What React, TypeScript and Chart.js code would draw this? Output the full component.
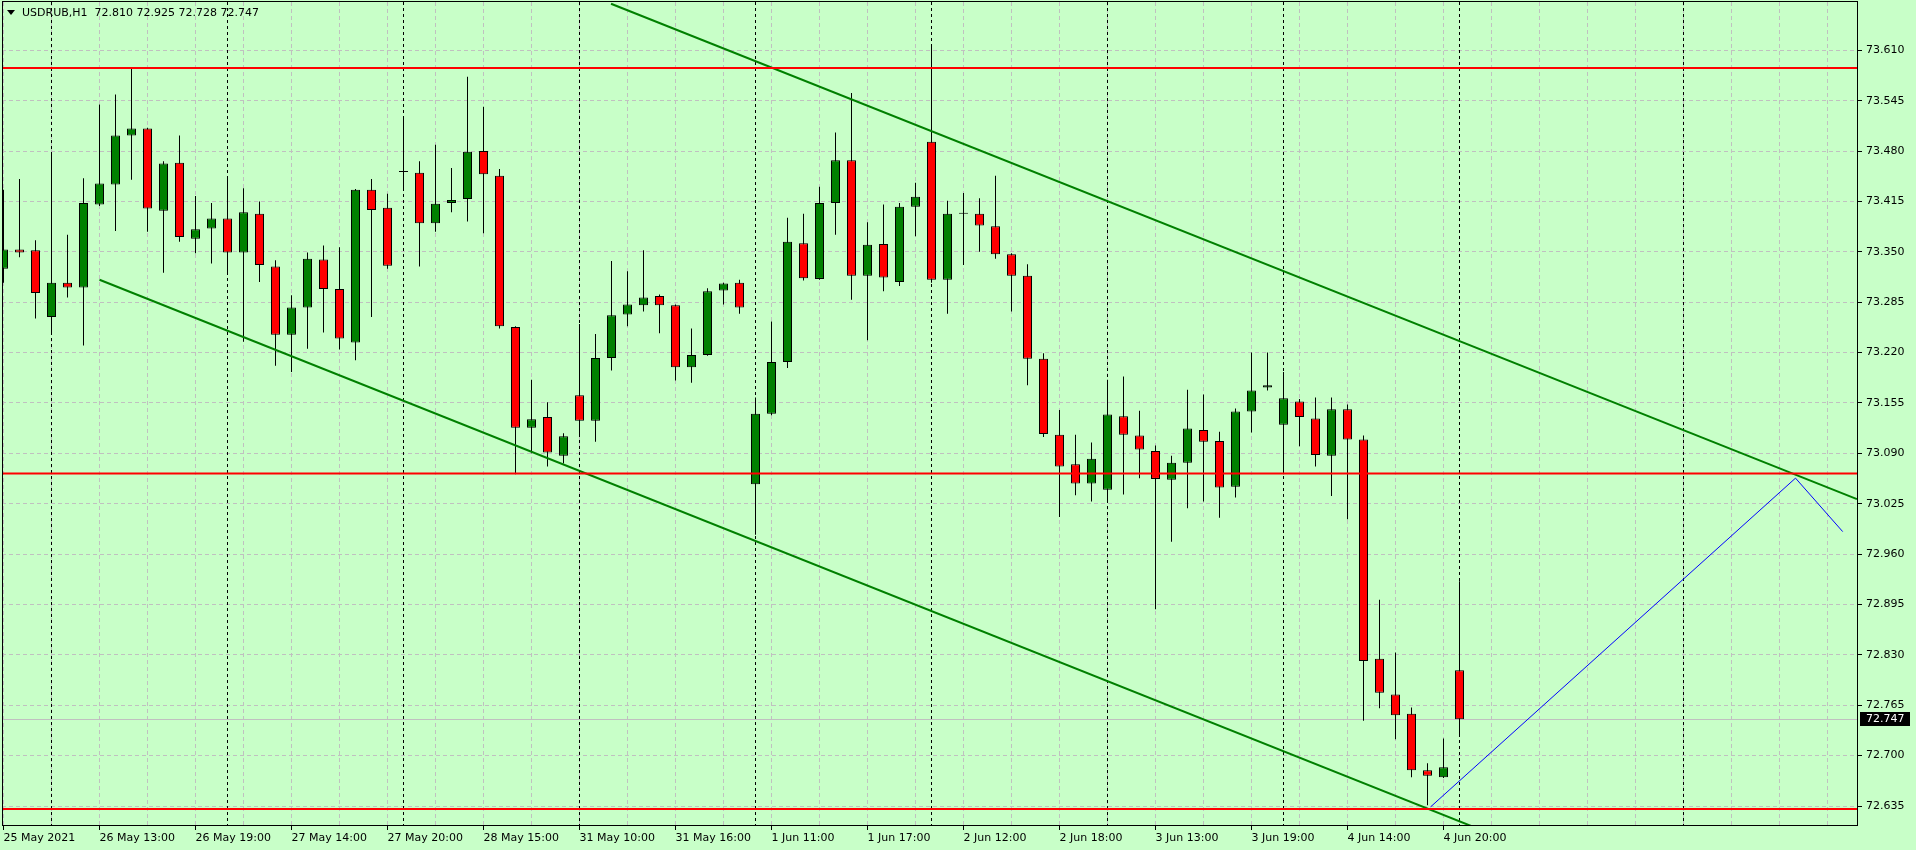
import React, { useEffect, useRef } from 'react';
import { Chart, registerables } from 'chart.js';

Chart.register(...registerables);

const symbolTitle = 'USDRUB,H1';
const headerValues = ['72.810', '72.925', '72.728', '72.747'];

const opens = [
  73.328, 73.353, 73.352, 73.266, 73.310, 73.304, 73.411, 73.437, 73.500, 73.509,
  73.403, 73.465, 73.367, 73.380, 73.393, 73.349, 73.399, 73.331, 73.243, 73.278,
  73.340, 73.302, 73.233, 73.430, 73.407, 73.453, 73.452, 73.387, 73.413, 73.418,
  73.480, 73.448, 73.253, 73.123, 73.137, 73.087, 73.165, 73.132, 73.213, 73.269,
  73.281, 73.293, 73.281, 73.201, 73.217, 73.300, 73.310, 73.050, 73.141, 73.208,
  73.361, 73.315, 73.413, 73.468, 73.319, 73.360, 73.311, 73.408, 73.492, 73.314,
  73.399, 73.399, 73.383, 73.347, 73.319, 73.212, 73.114, 73.076, 73.051, 73.043,
  73.138, 73.113, 73.093, 73.056, 73.078, 73.120, 73.106, 73.047, 73.144, 73.175,
  73.127, 73.157, 73.135, 73.087, 73.147, 73.108, 72.825, 72.779, 72.754, 72.681,
  72.672, 72.810,
];
const highs = [
  73.430, 73.444, 73.365, 73.478, 73.372, 73.445, 73.540, 73.553, 73.587, 73.510,
  73.467, 73.500, 73.422, 73.413, 73.447, 73.432, 73.415, 73.339, 73.294, 73.349,
  73.358, 73.356, 73.431, 73.444, 73.425, 73.525, 73.467, 73.488, 73.458, 73.576,
  73.537, 73.457, 73.254, 73.185, 73.156, 73.116, 73.257, 73.244, 73.338, 73.325,
  73.352, 73.295, 73.282, 73.251, 73.303, 73.310, 73.314, 73.162, 73.260, 73.394,
  73.399, 73.434, 73.504, 73.555, 73.388, 73.411, 73.413, 73.439, 73.618, 73.416,
  73.426, 73.419, 73.448, 73.348, 73.334, 73.219, 73.146, 73.114, 73.104, 73.185,
  73.189, 73.145, 73.100, 73.087, 73.172, 73.166, 73.118, 73.148, 73.220, 73.220,
  73.195, 73.160, 73.162, 73.162, 73.153, 73.113, 72.901, 72.833, 72.762, 72.690,
  72.722, 72.925,
];
const lows = [
  73.310, 73.343, 73.264, 73.243, 73.291, 73.229, 73.409, 73.377, 73.443, 73.376,
  73.323, 73.363, 73.348, 73.335, 73.320, 73.234, 73.311, 73.203, 73.195, 73.225,
  73.246, 73.224, 73.210, 73.266, 73.328, 73.429, 73.331, 73.376, 73.401, 73.389,
  73.374, 73.251, 73.063, 73.090, 73.073, 73.077, 73.111, 73.105, 73.197, 73.254,
  73.273, 73.245, 73.184, 73.181, 73.216, 73.282, 73.270, 72.985, 73.139, 73.200,
  73.313, 73.314, 73.372, 73.288, 73.236, 73.299, 73.306, 73.370, 73.310, 73.270,
  73.333, 73.350, 73.341, 73.273, 73.178, 73.111, 73.008, 73.036, 73.028, 73.027,
  73.037, 73.058, 72.889, 72.976, 73.019, 73.028, 73.007, 73.033, 73.117, 73.171,
  73.063, 73.099, 73.073, 73.035, 73.005, 72.745, 72.761, 72.721, 72.672, 72.636,
  72.671, 72.728,
];
const closes = [
  73.353, 73.349, 73.297, 73.310, 73.304, 73.413, 73.438, 73.500, 73.509, 73.406,
  73.464, 73.369, 73.379, 73.393, 73.349, 73.401, 73.333, 73.243, 73.278, 73.341,
  73.302, 73.238, 73.430, 73.404, 73.332, 73.453, 73.387, 73.412, 73.417, 73.479,
  73.450, 73.254, 73.123, 73.134, 73.091, 73.112, 73.132, 73.213, 73.268, 73.282,
  73.291, 73.281, 73.201, 73.217, 73.299, 73.309, 73.278, 73.141, 73.208, 73.363,
  73.316, 73.413, 73.468, 73.319, 73.359, 73.317, 73.408, 73.421, 73.314, 73.399,
  73.399, 73.384, 73.347, 73.319, 73.212, 73.115, 73.073, 73.051, 73.083, 73.140,
  73.114, 73.095, 73.057, 73.078, 73.122, 73.105, 73.046, 73.144, 73.171, 73.178,
  73.161, 73.137, 73.088, 73.147, 73.108, 72.822, 72.781, 72.752, 72.681, 72.674,
  72.685, 72.747,
];

const xLabelBars = [0, 6, 12, 18, 24, 30, 36, 42, 48, 54, 60, 66, 72, 78, 84, 90];
const xLabels = [
  '25 May 2021', '26 May 13:00', '26 May 19:00', '27 May 14:00', '27 May 20:00',
  '28 May 15:00', '31 May 10:00', '31 May 16:00', '1 Jun 11:00', '1 Jun 17:00',
  '2 Jun 12:00', '2 Jun 18:00', '3 Jun 13:00', '3 Jun 19:00', '4 Jun 14:00', '4 Jun 20:00',
];
const yTickValues = [
  72.635, 72.7, 72.765, 72.83, 72.895, 72.96, 73.025, 73.09,
  73.155, 73.22, 73.285, 73.35, 73.415, 73.48, 73.545, 73.61,
];
const separatorBars = [3, 14, 25, 36, 47, 58, 69, 80, 91, 105];
const levelPrices = [73.587, 73.064, 72.631];
const upperChannel = [{ x: 37.97, y: 73.67 }, { x: 115.84, y: 73.031 }];
const lowerChannel = [{ x: 6, y: 73.314 }, { x: 92, y: 72.607 }];
const projection = [{ x: 89.2, y: 72.634 }, { x: 112.0, y: 73.058 }, { x: 114.95, y: 72.989 }];

const X_MIN = -0.09375;
const X_MAX = 115.90625;
const Y_MIN = 72.6092;
const Y_MAX = 73.6723;
const GRID_STEP_BARS = 3;

const BG = '#C8FFC8';
const BULL = '#008000';
const BEAR = '#FF0000';
const FONT = 'DejaVu Sans';

export default function App() {
  const canvasRef = useRef<HTMLCanvasElement | null>(null);

  useEffect(() => {
    const canvas = canvasRef.current;
    if (!canvas) return;
    const lastClose = closes[closes.length - 1];

    const gridBars: number[] = [];
    for (let b = 0; b <= X_MAX; b += GRID_STEP_BARS) gridBars.push(b);

    const overlay = {
      id: 'mt4overlay',
      beforeDatasetsDraw(chart: any) {
        const { ctx, chartArea: a, scales } = chart;
        const x = scales.x;
        const y = scales.y;
        ctx.save();
        ctx.beginPath();
        ctx.rect(a.left, a.top, a.right - a.left, a.bottom - a.top);
        ctx.clip();
        const py = Math.round(y.getPixelForValue(lastClose)) + 0.5;
        ctx.lineWidth = 1;
        ctx.setLineDash([]);
        ctx.strokeStyle = '#C0C0C0';
        ctx.beginPath();
        ctx.moveTo(a.left, py);
        ctx.lineTo(a.right, py);
        ctx.stroke();
        ctx.strokeStyle = '#000000';
        ctx.setLineDash([3, 3]);
        separatorBars.forEach((b) => {
          const px = Math.floor(x.getPixelForValue(b)) + 0.5;
          ctx.beginPath();
          ctx.moveTo(px, a.top);
          ctx.lineTo(px, a.bottom);
          ctx.stroke();
        });
        ctx.restore();
      },
      afterDraw(chart: any) {
        const { ctx, chartArea: a, scales } = chart;
        const y = scales.y;
        ctx.save();
        ctx.strokeStyle = '#000000';
        ctx.lineWidth = 1;
        ctx.setLineDash([]);
        ctx.strokeRect(a.left + 0.5, a.top - 0.5, a.right - a.left - 1, a.bottom - a.top);
        const py = Math.round(y.getPixelForValue(lastClose));
        ctx.fillStyle = '#000000';
        ctx.fillRect(a.right + 2, py - 7, 50, 14);
        ctx.fillStyle = '#FFFFFF';
        ctx.font = `11px "${FONT}"`;
        ctx.textBaseline = 'middle';
        ctx.textAlign = 'left';
        ctx.fillText(lastClose.toFixed(3), a.right + 8, py + 0.5);
        ctx.restore();
      },
    };

    const bodyData = opens.map((o, i) => ({ x: i, y: [o, closes[i]] }));
    const wickData = lows.map((l, i) => ({ x: i, y: [l, highs[i]] }));
    const bodyColors = opens.map((o, i) => (closes[i] >= o ? BULL : BEAR));

    const lineBase = {
      type: 'line' as const,
      pointRadius: 0,
      tension: 0,
      fill: false,
      clip: 0,
      order: 0,
    };

    const chart = new Chart(canvas, {
      type: 'bar',
      data: {
        datasets: [
          ...levelPrices.map((p) => ({
            ...lineBase,
            data: [{ x: X_MIN, y: p }, { x: X_MAX, y: p }],
            borderColor: BEAR,
            borderWidth: 2,
          })),
          { ...lineBase, data: upperChannel, borderColor: BULL, borderWidth: 2 },
          { ...lineBase, data: lowerChannel, borderColor: BULL, borderWidth: 2 },
          { ...lineBase, data: projection, borderColor: '#0000FF', borderWidth: 1 },
          {
            type: 'bar' as const,
            data: bodyData as any,
            backgroundColor: bodyColors,
            borderColor: '#000000',
            borderWidth: 1,
            borderSkipped: false,
            barThickness: 9,
            minBarLength: 1,
            grouped: false,
            inflateAmount: 0,
            order: 1,
          },
          {
            type: 'bar' as const,
            data: wickData as any,
            backgroundColor: '#000000',
            borderWidth: 0,
            barThickness: 1,
            grouped: false,
            inflateAmount: 0,
            order: 2,
          },
        ] as any,
      },
      options: {
        animation: false,
        responsive: false,
        devicePixelRatio: 1,
        events: [],
        layout: { padding: { left: 2, top: 2, right: 0, bottom: 0 } },
        plugins: { legend: { display: false }, tooltip: { enabled: false }, title: { display: false } },
        scales: {
          x: {
            type: 'linear',
            position: 'bottom',
            min: X_MIN,
            max: X_MAX,
            offset: false,
            afterFit: (s: any) => {
              s.height = 24;
              s.paddingLeft = 0;
              s.paddingRight = 0;
            },
            afterBuildTicks: (s: any) => {
              s.ticks = gridBars.map((v) => ({ value: v }));
            },
            ticks: {
              autoSkip: false,
              maxRotation: 0,
              minRotation: 0,
              align: 'start',
              padding: 2,
              color: '#000000',
              font: { family: FONT, size: 11 },
              callback: (v: any) => {
                const k = xLabelBars.indexOf(Number(v));
                return k >= 0 ? xLabels[k] : '';
              },
            },
            grid: {
              offset: false,
              color: '#C0C0C0',
              lineWidth: 1,
              tickLength: 4,
              tickBorderDash: [],
              tickColor: (c: any) =>
                c.tick && xLabelBars.includes(c.tick.value) ? '#000000' : 'rgba(0,0,0,0)',
            },
            border: { display: false, dash: [4, 3] },
          },
          y: {
            type: 'linear',
            position: 'right',
            min: Y_MIN,
            max: Y_MAX,
            beginAtZero: false,
            afterFit: (s: any) => {
              s.width = 58;
              s.paddingTop = 0;
              s.paddingBottom = 0;
            },
            afterBuildTicks: (s: any) => {
              s.ticks = yTickValues.map((v) => ({ value: v }));
            },
            ticks: {
              padding: 4,
              color: '#000000',
              font: { family: FONT, size: 11 },
              callback: (v: any) => Number(v).toFixed(3),
            },
            grid: {
              color: '#C0C0C0',
              lineWidth: 1,
              tickLength: 4,
              tickBorderDash: [],
              tickColor: '#000000',
            },
            border: { display: false, dash: [4, 3] },
          },
        },
      } as any,
      plugins: [overlay],
    });

    return () => chart.destroy();
  }, []);

  return (
    <div
      style={{
        position: 'absolute',
        left: 0,
        top: 0,
        width: 1916,
        height: 850,
        background: BG,
        overflow: 'hidden',
      }}
    >
      <canvas ref={canvasRef} width={1916} height={850} style={{ display: 'block' }} />
      <div
        style={{
          position: 'absolute',
          left: 7,
          top: 6,
          font: `11px "${FONT}"`,
          lineHeight: '13px',
          color: '#000',
          whiteSpace: 'pre',
          display: 'flex',
          alignItems: 'center',
        }}
      >
        <span
          style={{
            display: 'inline-block',
            width: 0,
            height: 0,
            borderLeft: '4px solid transparent',
            borderRight: '4px solid transparent',
            borderTop: '5px solid #000',
            marginRight: 7,
          }}
        />
        <span>{`${symbolTitle}  ${headerValues.join(' ')}`}</span>
      </div>
    </div>
  );
}
